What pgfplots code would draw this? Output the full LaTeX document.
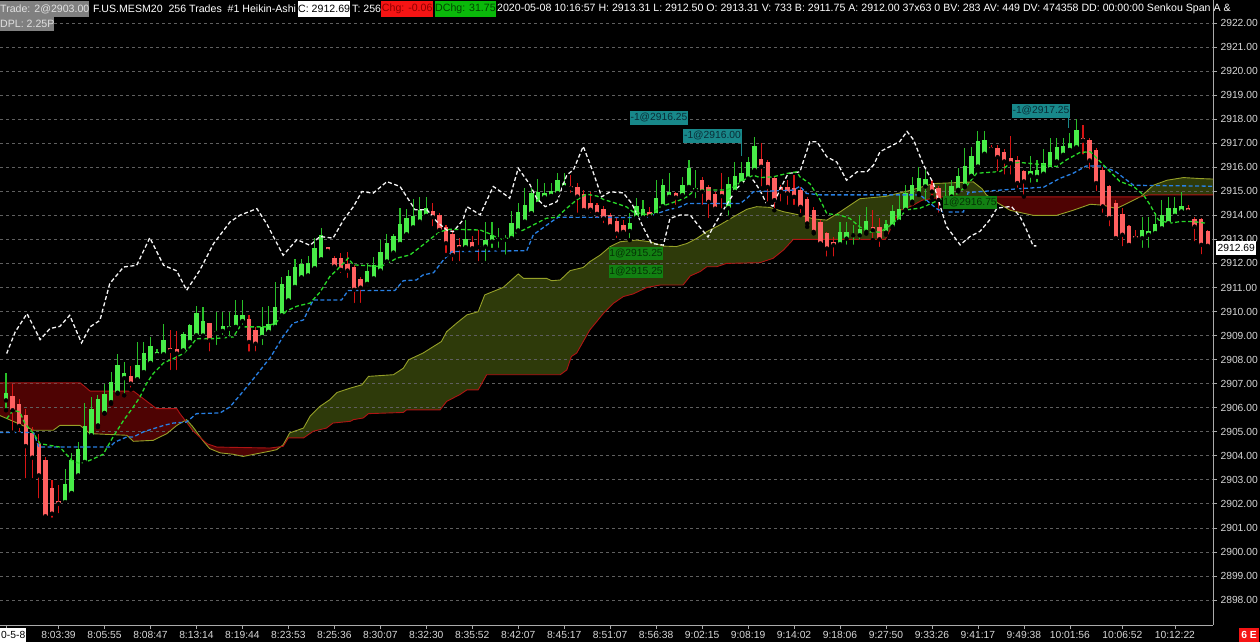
\documentclass[border=0pt]{standalone}
\usepackage{xcolor}
\usepackage{pgfplots}
\pgfplotsset{compat=1.18}
\usepackage{pgfplotstable}
\usepackage{fontspec}
\setmainfont{Liberation Sans}
\pagecolor{black}
\definecolor{bodyG}{RGB}{72,236,72}
\definecolor{wickG}{RGB}{40,190,40}
\definecolor{bodyR}{RGB}{255,96,96}
\definecolor{wickR}{RGB}{215,20,20}
\definecolor{tenkan}{RGB}{40,215,40}
\definecolor{kijun}{RGB}{40,128,228}
\definecolor{chikou}{RGB}{245,245,245}
\definecolor{spanA}{RGB}{150,160,40}
\definecolor{spanB}{RGB}{175,20,20}
\definecolor{cloudG}{RGB}{46,58,10}
\definecolor{cloudR}{RGB}{78,3,3}
\definecolor{gridgray}{RGB}{95,95,95}
\definecolor{axisgray}{RGB}{170,170,170}
\definecolor{lblgray}{RGB}{215,215,215}
\definecolor{hdrgray}{RGB}{128,128,128}
\definecolor{hdrtxt}{RGB}{225,225,225}
\definecolor{chgred}{RGB}{245,20,20}
\definecolor{chgtxt}{RGB}{140,0,0}
\definecolor{dchg}{RGB}{10,185,10}
\definecolor{dchgtxt}{RGB}{0,70,0}
\definecolor{teal1}{RGB}{24,136,138}
\definecolor{tealtxt}{RGB}{10,45,55}
\definecolor{grn1}{RGB}{18,128,18}
\definecolor{grntxt}{RGB}{5,50,5}
\newcommand{\lbl}{\fontsize{10.3}{12}\selectfont}
\newcommand{\hdr}{\fontsize{10.6}{12}\selectfont}
\pgfplotstableread{
i lo hi wl wh
0 2906.30 2906.62 2905.89 2907.46
9 2902.07 2902.84 2902.00 2903.46
10 2902.45 2903.81 2902.42 2904.11
11 2903.18 2904.29 2903.11 2904.57
12 2903.74 2905.22 2903.67 2906.19
13 2904.85 2905.96 2904.78 2906.44
14 2905.26 2906.35 2905.19 2906.51
15 2905.78 2906.58 2905.75 2906.97
16 2906.23 2907.07 2906.16 2907.48
17 2906.62 2907.76 2906.58 2908.25
18 2907.23 2907.44 2906.51 2907.90
20 2907.18 2907.76 2907.14 2908.73
21 2907.48 2908.27 2907.41 2908.73
22 2907.86 2908.56 2907.83 2908.94
23 2908.19 2908.30 2908.13 2908.45
24 2908.22 2908.80 2908.18 2909.49
27 2908.38 2909.08 2908.36 2909.15
28 2908.73 2909.42 2908.69 2909.49
29 2909.01 2909.94 2908.97 2910.21
30 2909.00 2909.60 2908.95 2910.20
32 2909.11 2909.19 2908.52 2909.98
33 2909.19 2909.40 2908.94 2909.98
34 2909.29 2909.38 2908.87 2909.98
35 2909.36 2909.84 2909.29 2910.46
36 2909.60 2909.84 2909.36 2910.46
39 2908.94 2909.36 2908.52 2910.19
40 2909.15 2909.49 2909.08 2910.21
41 2909.36 2910.19 2909.29 2911.23
42 2909.84 2911.16 2909.77 2911.44
43 2910.46 2911.46 2910.40 2911.71
44 2911.02 2911.85 2910.95 2912.20
45 2911.42 2911.97 2911.36 2912.20
46 2911.50 2912.00 2911.40 2912.30
47 2911.80 2912.63 2911.73 2913.05
48 2912.17 2913.19 2912.15 2913.46
55 2911.15 2911.70 2910.97 2912.01
56 2911.38 2911.94 2911.31 2912.28
57 2911.70 2912.49 2911.66 2912.98
58 2912.08 2912.84 2912.03 2913.23
59 2912.45 2913.12 2912.35 2913.21
60 2912.81 2913.64 2912.77 2914.30
61 2913.21 2913.88 2913.14 2914.25
62 2913.50 2913.98 2913.46 2914.67
63 2913.74 2914.23 2913.67 2914.75
64 2913.98 2914.30 2913.95 2914.75
70 2912.67 2913.01 2912.56 2913.81
73 2912.70 2912.98 2912.01 2913.74
74 2912.91 2913.19 2912.56 2913.74
75 2913.00 2913.06 2912.56 2913.46
76 2912.98 2913.04 2912.28 2913.19
77 2913.05 2913.67 2913.00 2914.16
78 2913.37 2914.12 2913.32 2914.50
79 2913.74 2914.43 2913.70 2915.13
80 2914.09 2914.92 2914.06 2915.13
81 2914.48 2914.99 2914.43 2915.50
82 2914.75 2914.92 2914.71 2915.34
83 2914.81 2915.02 2914.75 2915.36
84 2914.92 2915.45 2914.89 2915.75
85 2915.17 2915.34 2915.13 2915.75
95 2913.35 2913.69 2912.97 2914.08
96 2913.91 2914.38 2913.80 2914.74
97 2913.91 2914.28 2913.80 2914.63
99 2914.01 2914.70 2913.94 2915.46
100 2914.38 2915.25 2914.28 2915.53
101 2914.77 2914.98 2914.63 2915.74
103 2914.84 2915.25 2914.77 2915.60
104 2915.18 2915.95 2915.12 2916.32
105 2915.05 2915.12 2914.63 2915.88
110 2914.30 2915.30 2913.90 2915.60
111 2914.98 2915.63 2914.91 2916.22
112 2915.32 2915.77 2915.25 2916.22
113 2915.53 2916.22 2915.49 2916.43
114 2915.88 2916.88 2915.81 2917.24
127 2912.80 2913.31 2912.69 2913.73
128 2913.03 2913.31 2912.69 2913.73
129 2913.17 2913.24 2912.69 2913.59
130 2913.17 2913.45 2912.90 2914.01
131 2913.31 2913.77 2913.24 2914.35
134 2913.28 2913.64 2913.19 2913.81
135 2913.53 2914.16 2913.46 2914.44
136 2913.74 2914.26 2913.67 2914.85
137 2914.23 2914.92 2914.16 2915.27
138 2914.57 2915.27 2914.50 2915.61
139 2914.92 2915.55 2914.85 2916.03
140 2915.20 2915.50 2914.50 2915.90
143 2914.23 2914.81 2914.16 2915.34
144 2914.78 2915.20 2914.71 2915.48
145 2915.06 2915.64 2914.99 2915.96
146 2915.23 2916.06 2915.17 2916.79
147 2915.64 2916.47 2915.61 2916.86
148 2916.03 2917.10 2916.00 2917.49
149 2916.56 2917.14 2916.52 2917.49
156 2915.66 2915.85 2915.27 2916.45
157 2915.60 2915.90 2915.30 2916.30
158 2915.73 2916.17 2915.68 2916.75
159 2915.92 2916.65 2915.89 2917.21
160 2916.24 2916.83 2916.17 2917.21
161 2916.52 2916.89 2916.45 2917.21
162 2916.72 2917.00 2916.65 2917.42
163 2916.83 2917.53 2916.79 2918.00
173 2913.05 2913.37 2912.56 2913.95
174 2913.19 2913.33 2912.56 2913.95
175 2913.26 2913.64 2913.12 2914.09
176 2913.46 2914.02 2913.40 2914.62
177 2913.67 2914.30 2913.60 2914.75
178 2913.98 2914.30 2913.95 2914.75
179 2914.16 2914.37 2914.09 2914.99
}\greenC
\pgfplotstableread{
i lo hi wl wh
1 2905.89 2906.47 2904.96 2906.97
2 2905.24 2906.17 2904.90 2906.37
3 2904.40 2905.71 2902.98 2905.96
4 2903.92 2904.96 2902.98 2905.19
5 2903.18 2904.47 2902.14 2904.92
6 2901.48 2903.81 2901.38 2903.95
7 2901.59 2902.67 2901.34 2902.98
8 2902.00 2902.10 2901.52 2902.77
19 2907.00 2907.30 2906.75 2907.72
25 2908.36 2908.50 2907.48 2909.22
26 2908.25 2908.44 2907.48 2909.18
31 2908.80 2909.52 2908.25 2909.52
37 2908.73 2909.70 2908.25 2909.84
38 2908.66 2909.22 2908.25 2909.36
49 2912.52 2912.67 2912.42 2912.70
50 2911.87 2912.24 2911.80 2912.30
51 2911.73 2912.21 2911.52 2912.42
52 2911.70 2911.98 2911.31 2912.49
53 2910.90 2911.83 2910.27 2911.94
54 2910.99 2911.34 2910.27 2911.45
65 2913.92 2914.16 2913.46 2914.50
66 2913.39 2914.02 2913.19 2914.09
67 2912.84 2913.50 2912.35 2913.60
68 2912.35 2913.23 2912.01 2913.37
69 2912.63 2912.77 2912.01 2913.05
71 2912.63 2912.87 2912.56 2913.12
72 2912.68 2912.74 2912.01 2913.39
86 2915.13 2915.22 2914.85 2915.68
87 2914.78 2915.17 2914.02 2915.34
88 2914.22 2914.88 2914.09 2915.06
89 2914.23 2914.53 2914.02 2914.99
90 2914.06 2914.43 2913.81 2914.50
91 2913.87 2914.28 2913.59 2914.38
92 2913.55 2914.01 2913.38 2914.08
93 2913.24 2913.77 2912.97 2913.87
94 2913.31 2913.59 2913.17 2913.80
98 2913.96 2914.14 2913.80 2914.35
102 2914.74 2914.91 2914.35 2914.98
106 2914.98 2915.49 2914.35 2915.60
107 2914.56 2915.16 2913.80 2915.25
108 2914.28 2914.88 2914.21 2914.98
109 2914.80 2915.00 2914.20 2915.74
115 2916.02 2916.36 2915.12 2916.99
116 2915.18 2916.22 2914.49 2916.29
117 2914.63 2915.57 2914.21 2915.60
118 2914.98 2915.16 2914.49 2915.25
119 2914.91 2915.16 2914.35 2915.46
120 2914.77 2915.12 2914.35 2915.67
121 2914.35 2915.05 2914.01 2915.18
122 2913.66 2914.66 2913.52 2914.77
123 2913.31 2914.21 2913.25 2914.35
124 2912.83 2913.73 2912.69 2913.80
125 2912.62 2913.27 2912.20 2913.31
126 2912.76 2912.90 2912.20 2913.10
132 2913.38 2913.52 2912.97 2914.21
133 2913.00 2913.50 2912.60 2913.90
141 2914.99 2915.27 2914.75 2915.48
142 2914.64 2915.13 2914.02 2915.20
150 2916.75 2916.83 2916.65 2916.93
151 2916.42 2916.79 2915.75 2916.93
152 2916.24 2916.65 2915.61 2916.75
153 2916.17 2916.38 2915.61 2917.28
154 2915.34 2916.31 2915.06 2916.45
155 2915.41 2915.86 2914.78 2915.89
164 2917.11 2917.21 2916.45 2917.76
165 2916.28 2917.14 2915.82 2917.21
166 2915.34 2916.72 2914.92 2916.79
167 2914.37 2915.89 2914.02 2916.03
168 2913.88 2915.23 2913.46 2915.27
169 2913.05 2914.53 2913.00 2914.64
170 2913.19 2914.06 2912.63 2914.30
171 2912.77 2913.56 2912.70 2913.60
172 2913.05 2913.15 2912.91 2913.40
180 2914.16 2914.30 2914.09 2914.44
181 2913.53 2913.84 2912.84 2913.95
182 2912.77 2913.84 2912.29 2913.88
183 2912.73 2913.33 2912.69 2913.40
}\redC
\begin{document}
\begin{tikzpicture}
\begin{axis}[
  set layers,
  at={(0,0)}, anchor=north west,
  scale only axis, width=1213pt, height=625pt,
  xmin=-0.914, xmax=183.8, ymin=2896.958, ymax=2922.957,
  axis x line=bottom, axis y line=right,
  axis line style={draw=axisgray, line width=0.8pt, -},
  xtick={0,8,15,22,29,36,43,50,57,64,71,78,85,92,99,106,113,120,127,134,141,148,155,162,170,178},
  xticklabels={{},8:03:39,8:05:55,8:08:47,8:13:14,8:19:44,8:23:53,8:25:36,8:30:07,8:32:30,8:35:52,8:42:07,8:45:17,8:51:07,8:56:38,9:02:15,9:08:19,9:14:02,9:18:06,9:27:50,9:33:26,9:41:17,9:49:38,10:01:56,10:06:52,10:12:22},
  ytick={2898,2899,...,2922},
  ymajorgrids,
  grid style={draw=gridgray, dash pattern=on 3pt off 3pt, line width=0.7pt},
  tick style={draw=axisgray, line width=0.7pt},
  major tick length=4pt, tick align=outside,
  ticklabel style={font=\lbl, text=lblgray},
  xticklabel style={yshift=1pt},
  yticklabel style={/pgf/number format/.cd, fixed, fixed zerofill, precision=2, 1000 sep={}, assume math mode=true},
]
% Cloud fills (between Senkou span A and B), on the background layer under the grid
\addplot[on layer=axis background, fill=cloudR, draw=none] coordinates {(-0.914,2905.67) (4.2,2905.06) (7.2,2905.06) (8.2,2905.26) (11.3,2905.26) (12.8,2904.92) (18.4,2904.85) (19.4,2904.60) (22.4,2904.64) (24.5,2904.92) (26.0,2905.26) (27.3,2905.465) (26.5,2905.75) (26.0,2905.96) (22.9,2905.96) (19.4,2906.69) (12.8,2906.69) (11.3,2907.03) (-0.914,2907.03)} --cycle;
\addplot[on layer=axis background, fill=cloudG, draw=none] coordinates {(27.3,2905.465) (27.5,2905.50) (28.5,2905.19) (29.87,2904.67) (28.5,2905.03)} --cycle;
\addplot[on layer=axis background, fill=cloudR, draw=none] coordinates {(29.87,2904.67) (30.0,2904.62) (31.0,2904.30) (32.6,2904.12) (34.6,2904.06) (36.1,2903.97) (40.2,2904.19) (41.2,2904.25) (41.85,2904.38) (40.2,2904.32) (32.1,2904.36) (30.6,2904.50)} --cycle;
\addplot[on layer=axis background, fill=cloudG, draw=none] coordinates {(41.85,2904.38) (42.2,2904.45) (43.2,2904.95) (45.3,2905.15) (46.3,2905.64) (47.8,2906.05) (49.3,2906.33) (50.4,2906.63) (52.4,2906.81) (54.2,2906.95) (55.2,2907.30) (59.0,2907.37) (60.5,2907.64) (61.3,2907.99) (63.5,2908.27) (66.3,2908.75) (67.1,2909.16) (68.6,2909.51) (70.2,2909.86) (71.9,2909.99) (72.9,2910.69) (75.7,2911.0) (78.0,2911.56) (78.8,2911.38) (82.3,2911.38) (83.1,2911.28) (84.4,2911.31) (85.9,2911.70) (87.9,2911.83) (88.9,2912.07) (90.5,2912.35) (92.0,2912.70) (93.5,2912.90) (96.0,2912.97) (98.1,2912.90) (100.1,2912.72) (102.1,2912.70) (103.7,2912.83) (105.2,2913.04) (106.7,2913.32) (108.7,2913.60) (110.8,2913.94) (112.8,2914.25) (114.3,2914.36) (116.3,2914.33) (118.4,2914.15) (120.9,2914.01) (123.0,2913.85) (125,2913.80) (127,2914.14) (130,2914.69) (134,2914.79) (137.7,2915.04) (141.2,2915.32) (147.3,2915.39) (148.6,2915.11) (149.3,2914.85) (149.7,2914.77) (142.7,2914.77) (139.5,2914.63) (138,2914.4) (136.1,2914.2) (133.9,2913.0) (119.9,2913.0) (118.4,2912.56) (116.8,2912.21) (114.8,2912.03) (109.7,2912.0) (108.2,2911.86) (106.7,2911.86) (105.7,2911.66) (104.2,2911.48) (103.1,2911.10) (99.6,2911.10) (97.6,2911.0) (95.5,2910.73) (94.0,2910.62) (92.5,2910.34) (92.0,2910.20) (91.0,2909.93) (88.9,2909.23) (86.9,2908.27) (86.1,2908.13) (85.4,2907.57) (84.4,2907.37) (73.2,2907.37) (71.9,2906.74) (70.2,2906.74) (69.1,2906.54) (67.1,2906.26) (66.1,2905.91) (61.0,2905.91) (60.5,2905.80) (55.2,2905.75) (54.4,2905.57) (52.9,2905.50) (52.4,2905.43) (49.8,2905.36) (48.8,2905.15) (46.8,2905.02) (45.3,2904.74) (43.0,2904.74) (42.2,2904.39)} --cycle;
\addplot[on layer=axis background, fill=cloudR, draw=none] coordinates {(149.7,2914.77) (150.5,2914.6) (152.9,2914.21) (156.4,2914.0) (160,2914.0) (162.5,2914.21) (165.1,2914.46) (167.1,2914.42) (169.1,2914.28) (171.7,2914.63) (172.7,2914.77)} --cycle;
\addplot[on layer=axis background, fill=cloudG, draw=none] coordinates {(172.7,2914.77) (172.9,2914.80) (174.7,2915.25) (176.8,2915.46) (179.3,2915.57) (181.8,2915.53) (183.8,2915.51) (183.8,2914.85) (174,2914.85) (172.9,2914.77)} --cycle;
% Senkou span lines
\addplot[draw=spanA, line width=0.9pt] coordinates {(-1,2905.68) (4.2,2905.06) (7.2,2905.06) (8.2,2905.26) (11.3,2905.26) (12.8,2904.92) (18.4,2904.85) (19.4,2904.60) (22.4,2904.64) (24.5,2904.92) (26.0,2905.26) (27.5,2905.50) (28.5,2905.19) (30.0,2904.62) (31.0,2904.30) (32.6,2904.12) (34.6,2904.06) (36.1,2903.97) (40.2,2904.19) (41.2,2904.25) (42.2,2904.45) (43.2,2904.95) (45.3,2905.15) (46.3,2905.64) (47.8,2906.05) (49.3,2906.33) (50.4,2906.63) (52.4,2906.81) (54.2,2906.95) (55.2,2907.30) (59.0,2907.37) (60.5,2907.64) (61.3,2907.99) (63.5,2908.27) (66.3,2908.75) (67.1,2909.16) (68.6,2909.51) (70.2,2909.86) (71.9,2909.99) (72.9,2910.69) (75.7,2911.0) (78.0,2911.56) (78.8,2911.38) (82.3,2911.38) (83.1,2911.28) (84.4,2911.31) (85.9,2911.70) (87.9,2911.83) (88.9,2912.07) (90.5,2912.35) (92.0,2912.70) (93.5,2912.90) (96.0,2912.97) (98.1,2912.90) (100.1,2912.72) (102.1,2912.70) (103.7,2912.83) (105.2,2913.04) (106.7,2913.32) (108.7,2913.60) (110.8,2913.94) (112.8,2914.25) (114.3,2914.36) (116.3,2914.33) (118.4,2914.15) (120.9,2914.01) (123.0,2913.85) (125,2913.80) (127,2914.14) (130,2914.69) (134,2914.79) (137.7,2915.04) (141.2,2915.32) (147.3,2915.39) (148.6,2915.11) (149.3,2914.85) (150.5,2914.6) (152.9,2914.21) (156.4,2914.0) (160,2914.0) (162.5,2914.21) (165.1,2914.46) (167.1,2914.42) (169.1,2914.28) (171.7,2914.63) (172.9,2914.80) (174.7,2915.25) (176.8,2915.46) (179.3,2915.57) (181.8,2915.53) (184.6,2915.5)};
\addplot[draw=spanB, line width=0.9pt] coordinates {(-1,2907.03) (11.3,2907.03) (12.8,2906.69) (19.4,2906.69) (22.9,2905.96) (26.0,2905.96) (26.5,2905.75) (28.5,2905.03) (30.6,2904.50) (32.1,2904.36) (40.2,2904.32) (42.2,2904.39) (43.0,2904.74) (45.3,2904.74) (46.8,2905.02) (48.8,2905.15) (49.8,2905.36) (52.4,2905.43) (52.9,2905.50) (54.4,2905.57) (55.2,2905.75) (60.5,2905.80) (61.0,2905.91) (66.1,2905.91) (67.1,2906.26) (69.1,2906.54) (70.2,2906.74) (71.9,2906.74) (73.2,2907.37) (84.4,2907.37) (85.4,2907.57) (86.1,2908.13) (86.9,2908.27) (88.9,2909.23) (91.0,2909.93) (92.0,2910.20) (92.5,2910.34) (94.0,2910.62) (95.5,2910.73) (97.6,2911.0) (99.6,2911.10) (103.1,2911.10) (104.2,2911.48) (105.7,2911.66) (106.7,2911.86) (108.2,2911.86) (109.7,2912.0) (114.8,2912.03) (116.8,2912.21) (118.4,2912.56) (119.9,2913.0) (133.9,2913.0) (136.1,2914.2) (138,2914.4) (139.5,2914.63) (142.7,2914.77) (172.9,2914.77) (174,2914.85) (184.6,2914.85)};
% candles: wicks then bodies
\addplot[only marks, mark=none, error bars/.cd, y dir=plus, y explicit, error mark=none, error bar style={draw=wickG, line width=1.1pt}] table[x=i, y=wl, y error plus expr=\thisrow{wh}-\thisrow{wl}] {\greenC};
\addplot[only marks, mark=none, error bars/.cd, y dir=plus, y explicit, error mark=none, error bar style={draw=wickR, line width=1.1pt}] table[x=i, y=wl, y error plus expr=\thisrow{wh}-\thisrow{wl}] {\redC};
\addplot[only marks, mark=none, error bars/.cd, y dir=plus, y explicit, error mark=none, error bar style={draw=bodyG, line width=4.4pt}] table[x=i, y=lo, y error plus expr=\thisrow{hi}-\thisrow{lo}] {\greenC};
\addplot[only marks, mark=none, error bars/.cd, y dir=plus, y explicit, error mark=none, error bar style={draw=bodyR, line width=4.4pt}] table[x=i, y=lo, y error plus expr=\thisrow{hi}-\thisrow{lo}] {\redC};
% Chikou
\addplot[draw=chikou, line width=1.3pt, dash pattern=on 4pt off 2.5pt] coordinates {(0.1,2908.25) (1.4,2909.15) (3.2,2909.91) (5.2,2908.83) (6.7,2909.29) (8.2,2909.38) (9.7,2909.84) (11.5,2908.69) (12.8,2909.36) (14.3,2909.63) (15.8,2911.16) (17.9,2911.85) (19.9,2911.92) (21.9,2913.07) (24.0,2911.92) (26.0,2911.69) (27.5,2910.88) (29.5,2911.71) (31.6,2912.82) (34.1,2913.72) (35.6,2914.0) (38.2,2914.28) (39.7,2913.65) (42.2,2912.34) (44.3,2912.99) (46.3,2912.75) (47.8,2913.12) (49.8,2913.05) (51.4,2913.81) (52.9,2914.36) (54.2,2914.99) (55.9,2914.92) (58.0,2915.40) (60.0,2915.20) (61.5,2914.57) (62.3,2914.23) (64.1,2914.23) (65.6,2913.74) (67.1,2913.39) (68.1,2913.32) (69.6,2913.81) (70.2,2914.36) (72.2,2914.02) (74.2,2915.20) (75.7,2914.92) (76.7,2914.71) (78.0,2915.96) (79.8,2915.27) (80.8,2914.71) (82.1,2914.36) (83.9,2914.57) (85.4,2915.68) (86.4,2915.89) (87.9,2916.87) (89.4,2915.80) (90.7,2914.77) (92.0,2914.98) (94.0,2914.93) (95.3,2914.49) (97.0,2913.52) (98.3,2912.83) (100.1,2912.76) (101.1,2913.87) (102.6,2914.01) (104.2,2914.01) (105.2,2913.66) (106.9,2913.10) (107.7,2913.52) (109.2,2914.21) (111.3,2915.12) (112.8,2915.53) (113.8,2915.46) (114.8,2915.05) (115.8,2914.49) (116.8,2914.38) (117.8,2915.05) (119.1,2915.74) (120.9,2915.81) (122.4,2917.06) (123.5,2917.06) (125.0,2916.43) (126.5,2916.22) (128.0,2915.46) (129.6,2915.81) (131.1,2915.81) (132.1,2916.09) (133.1,2916.65) (135.1,2916.93) (136.1,2917.07) (137.2,2917.49) (138.2,2917.14) (139.7,2916.10) (141.2,2915.34) (143.2,2913.54) (145.3,2912.77) (146.8,2913.12) (148.3,2913.33) (149.8,2913.81) (150.9,2914.30) (153.1,2914.37) (154.4,2913.95) (155.4,2913.40) (156.4,2912.73) (156.9,2912.73)};
% Kijun
\addplot[draw=kijun, line width=1.3pt, dash pattern=on 4pt off 2.5pt] coordinates {(-1,2904.97) (4.2,2904.97) (5,2904.36) (15.8,2904.36) (16.6,2904.57) (18.4,2904.78) (19.4,2904.78) (20.9,2904.99) (22.4,2905.12) (24,2905.26) (25.5,2905.36) (27.5,2905.40) (29,2905.75) (32.6,2905.78) (34.1,2906.03) (35.6,2906.51) (37.7,2907.21) (39.7,2907.90) (40.2,2908.06) (42.2,2908.96) (43.7,2909.51) (45.3,2909.65) (46.8,2910.48) (51.1,2910.48) (52.1,2910.87) (59.2,2910.87) (60.5,2911.28) (62.5,2911.31) (63.5,2911.52) (65.1,2911.61) (66.6,2912.14) (67.9,2912.49) (79.3,2912.53) (80.3,2913.19) (81.3,2913.39) (83.3,2913.78) (84.1,2913.92) (97.6,2913.91) (99.1,2914.07) (100.6,2914.21) (102.6,2914.35) (103.7,2914.49) (111.8,2914.49) (112.8,2914.70) (113.8,2914.98) (119.9,2915.05) (120.9,2915.21) (121.9,2914.91) (124,2914.85) (139.2,2914.85) (141.7,2914.28) (142.7,2914.14) (145.8,2914.14) (146.5,2914.95) (155,2915.12) (158,2915.17) (160.5,2915.54) (162.5,2915.75) (164.5,2916.05) (167,2916.05) (169,2915.81) (171.7,2915.25) (184,2915.21)};
% Tenkan
\addplot[draw=tenkan, line width=1.3pt, dash pattern=on 4pt off 2.5pt] coordinates {(0.1,2905.54) (1.1,2905.89) (2.1,2905.82) (2.9,2905.33) (4.2,2904.92) (5.2,2904.50) (8.2,2904.36) (10.0,2903.81) (11.3,2903.67) (12.8,2903.81) (14.8,2904.06) (16.3,2904.78) (17.9,2905.47) (19.4,2906.03) (20.4,2906.44) (21.4,2907.0) (22.4,2907.41) (24.0,2907.86) (25.5,2908.04) (27.0,2908.25) (28.0,2908.52) (29.0,2908.87) (31.6,2908.87) (34.6,2908.94) (35.6,2909.36) (39.7,2909.36) (41.2,2909.56) (42.7,2910.02) (44.3,2910.22) (46.3,2910.35) (46.8,2910.5) (47.8,2910.80) (49.3,2911.45) (50.4,2911.73) (51.4,2912.01) (52.1,2912.22) (52.9,2911.94) (57.0,2911.87) (58.0,2911.98) (59.5,2912.22) (61.5,2912.35) (63.5,2912.77) (65.1,2913.12) (66.1,2913.32) (67.6,2913.42) (72.2,2913.39) (73.7,2913.23) (75.2,2913.0) (76.5,2913.05) (77.3,2913.23) (78.8,2913.39) (80.3,2913.60) (82.3,2913.88) (83.9,2913.92) (85.4,2914.30) (86.9,2914.64) (88.4,2914.88) (90.0,2914.80) (91.0,2914.66) (93.0,2914.49) (94.5,2914.35) (95.5,2914.14) (98.1,2914.01) (99.6,2914.35) (102.6,2914.63) (103.7,2914.77) (104.9,2915.05) (109.7,2915.05) (110.8,2915.18) (112.3,2915.46) (113.8,2915.67) (114.8,2915.57) (116.8,2915.60) (118.9,2915.74) (120.4,2915.81) (120.9,2915.60) (122.4,2915.32) (124.0,2914.63) (125.0,2914.07) (127.0,2914.01) (128.5,2913.87) (130.0,2913.52) (131.6,2913.31) (133.1,2913.30) (135.1,2913.67) (137.2,2914.23) (139.2,2914.30) (141.2,2914.53) (143.2,2914.78) (144.8,2914.89) (146.3,2915.23) (147.8,2915.75) (151.4,2915.82) (152.9,2916.17) (154.4,2916.20) (158.0,2916.10) (160.0,2916.03) (161.5,2916.31) (163.5,2916.61) (165.1,2916.65) (166.6,2916.24) (168.1,2915.82) (169.6,2915.41) (171.7,2915.20) (173.2,2914.85) (174.2,2914.44) (175.5,2913.81) (177.2,2913.67) (178.8,2913.74) (180.8,2913.74) (182.8,2913.67)};
\end{axis}
% trade labels
\draw[teal1, line width=0.8pt] (741pt,-142pt) -- (741pt,-156pt);
\draw[teal1, line width=0.8pt] (1068pt,-117pt) -- (1068pt,-128pt);
\node[fill=teal1, text=tealtxt, font=\lbl, inner sep=0pt, minimum width=58pt, minimum height=14pt] at (659pt,-117.6pt) {-1@2916.25};
\node[fill=teal1, text=tealtxt, font=\lbl, inner sep=0pt, minimum width=59pt, minimum height=14pt] at (712.5pt,-135.5pt) {-1@2916.00};
\node[fill=teal1, text=tealtxt, font=\lbl, inner sep=0pt, minimum width=58pt, minimum height=14pt] at (1041pt,-110.5pt) {-1@2917.25};
\node[fill=grn1, text=grntxt, font=\lbl, inner sep=0pt, minimum width=54pt, minimum height=13pt] at (636pt,-253.5pt) {1@2915.25};
\node[fill=grn1, text=grntxt, font=\lbl, inner sep=0pt, minimum width=54pt, minimum height=13pt] at (636pt,-271.5pt) {1@2915.25};
\node[fill=grn1, text=grntxt, font=\lbl, inner sep=0pt, minimum width=54pt, minimum height=13pt] at (970pt,-202pt) {1@2916.75};
% price tag and corner boxes
\node[fill=white, text=black, font=\lbl, anchor=west, inner xsep=1.5pt, inner ysep=0pt, minimum height=14pt] at (1216pt,-247.5pt) {2912.69};
\node[fill=white, text=black, font=\lbl, anchor=north west, inner xsep=1pt, inner ysep=0pt, minimum height=14pt] at (0pt,-628pt) {0-5-8};
\node[fill=chgred, text=white, font=\lbl\bfseries, anchor=north east, inner xsep=2pt, inner ysep=0pt, minimum height=14pt] at (1259pt,-628pt) {6 E};
% header
\node[fill=hdrgray, text=hdrtxt, font=\hdr, anchor=north west, inner sep=0pt, minimum width=88pt, minimum height=16pt] at (0pt,-1pt) {Trade: 2@2903.00};
\node[text=white, font=\hdr, anchor=west, inner sep=0pt] at (93pt,-9pt) {F.US.MESM20\ \ 256 Trades\ \ \#1 Heikin-Ashi};
\node[fill=white, text=black, font=\hdr, anchor=north west, inner sep=0pt, minimum width=51pt, minimum height=16pt] at (298pt,-1pt) {C: 2912.69};
\node[text=white, font=\hdr, anchor=west, inner sep=0pt] at (352pt,-9pt) {T: 256};
\node[fill=chgred, text=chgtxt, font=\hdr, anchor=north west, inner sep=0pt, minimum width=52pt, minimum height=16pt] at (381pt,-1pt) {Chg: -0.06};
\node[fill=dchg, text=dchgtxt, font=\hdr, anchor=north west, inner sep=0pt, minimum width=60pt, minimum height=16pt] at (435pt,-1pt) {DChg: 31.75};
\node[text=white, font=\hdr, anchor=west, inner sep=0pt] at (497pt,-9pt) {2020-05-08 10:16:57 H: 2913.31 L: 2912.50 O: 2913.31 V: 733 B: 2911.75 A: 2912.00 37x63 0 BV: 283 AV: 449 DV: 474358 DD: 00:00:00 Senkou Span A \&};
\node[fill=hdrgray, text=hdrtxt, font=\hdr, anchor=north west, inner sep=0pt, minimum width=51pt, minimum height=14pt] at (0pt,-17pt) {DPL: 2.25P};
\pgfresetboundingbox
\path[use as bounding box] (0,0) rectangle (1260pt,-642pt);
\end{tikzpicture}
\end{document}
